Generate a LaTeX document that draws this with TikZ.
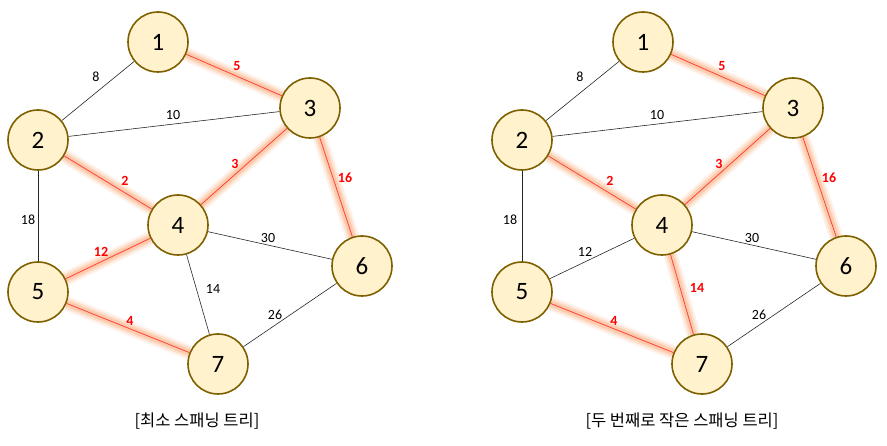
\documentclass[tikz,border=0pt]{standalone}
\usepackage{fontspec}
\setmainfont{Carlito}
\newfontfamily\krfont{Noto Sans CJK KR}
\usetikzlibrary{backgrounds}
\definecolor{vborder}{HTML}{7F6000}
\definecolor{vfill}{HTML}{FFF2CC}
\definecolor{glowc}{HTML}{F8A36B}
\definecolor{redline}{HTML}{FF4040}
\definecolor{redtxt}{HTML}{FF0000}
\begin{document}
\begin{tikzpicture}[x=1pt,y=-1pt,
  vtx/.style={circle,draw=vborder,line width=1.6pt,fill=vfill,minimum size=60pt,inner sep=0pt,font=\fontsize{25}{25}\selectfont},
  plain/.style={draw=black!85,line width=0.6pt},
  glowedge/.style={draw=redline,line width=0.8pt,
    preaction={draw=glowc,line width=14pt,opacity=0.15},
    preaction={draw=glowc,line width=10pt,opacity=0.22},
    preaction={draw=glowc,line width=6pt,opacity=0.35}},
  wlab/.style={font=\fontsize{14}{14}\selectfont,inner sep=0pt},
  rlab/.style={font=\fontsize{14}{14}\selectfont\bfseries,text=redtxt,inner sep=0pt},
  captext/.style={font=\krfont\fontsize{16.5}{16.5}\selectfont,inner sep=0pt}]
\useasboundingbox (0,0) rectangle (887,446);
% left graph
\node[vtx] (a1) at (158,42) {1};
\node[vtx] (a2) at (38,140) {2};
\node[vtx] (a3) at (310,108) {3};
\node[vtx] (a4) at (178,225) {4};
\node[vtx] (a5) at (38,292) {5};
\node[vtx] (a6) at (362,266) {6};
\node[vtx] (a7) at (218,364) {7};
% right graph
\node[vtx] (b1) at (643,42) {1};
\node[vtx] (b2) at (522,140) {2};
\node[vtx] (b3) at (793,108) {3};
\node[vtx] (b4) at (662,225) {4};
\node[vtx] (b5) at (522,292) {5};
\node[vtx] (b6) at (846,266) {6};
\node[vtx] (b7) at (702,364) {7};
\begin{scope}[on background layer]
  % left edges
  \draw[plain] (a1) -- (a2);
  \draw[plain] (a2) -- (a3);
  \draw[plain] (a2) -- (a5);
  \draw[plain] (a4) -- (a6);
  \draw[plain] (a4) -- (a7);
  \draw[plain] (a6) -- (a7);
  \draw[glowedge] (a1) -- (a3);
  \draw[glowedge] (a2) -- (a4);
  \draw[glowedge] (a3) -- (a4);
  \draw[glowedge] (a3) -- (a6);
  \draw[glowedge] (a4) -- (a5);
  \draw[glowedge] (a5) -- (a7);
  % right edges
  \draw[plain] (b1) -- (b2);
  \draw[plain] (b2) -- (b3);
  \draw[plain] (b2) -- (b5);
  \draw[plain] (b4) -- (b6);
  \draw[plain] (b4) -- (b5);
  \draw[plain] (b6) -- (b7);
  \draw[glowedge] (b1) -- (b3);
  \draw[glowedge] (b2) -- (b4);
  \draw[glowedge] (b3) -- (b4);
  \draw[glowedge] (b3) -- (b6);
  \draw[glowedge] (b4) -- (b7);
  \draw[glowedge] (b5) -- (b7);
\end{scope}
% left labels
\node[wlab] (la8) at (96,77) {8};
\node[wlab] (la10) at (173,115) {10};
\node[rlab] (la5) at (237,66) {5};
\node[rlab] (la2) at (125,181) {2};
\node[rlab] (la3) at (235,164) {3};
\node[rlab] (la16) at (345,178) {16};
\node[wlab] (la18) at (28,220) {18};
\node[rlab] (la12) at (101,252) {12};
\node[wlab] (la30) at (268,238) {30};
\node[wlab] (la14) at (213,289) {14};
\node[wlab] (la26) at (275,315) {26};
\node[rlab] (la4) at (130,321) {4};
% right labels
\node[wlab] (lb8) at (580,77) {8};
\node[wlab] (lb10) at (657,115) {10};
\node[rlab] (lb5) at (722,66) {5};
\node[rlab] (lb2) at (610,181) {2};
\node[rlab] (lb3) at (719,164) {3};
\node[rlab] (lb16) at (829,178) {16};
\node[wlab] (lb18) at (510,220) {18};
\node[wlab] (lb12) at (585,252) {12};
\node[wlab] (lb30) at (752,238) {30};
\node[rlab] (lb14) at (697,288) {14};
\node[wlab] (lb26) at (759,315) {26};
\node[rlab] (lb4) at (614,321) {4};
% captions
\node[captext] (capa) at (197,421) {[최소 스패닝 트리]};
\node[captext] (capb) at (682,421) {[두 번째로 작은 스패닝 트리]};
\end{tikzpicture}
\end{document}
